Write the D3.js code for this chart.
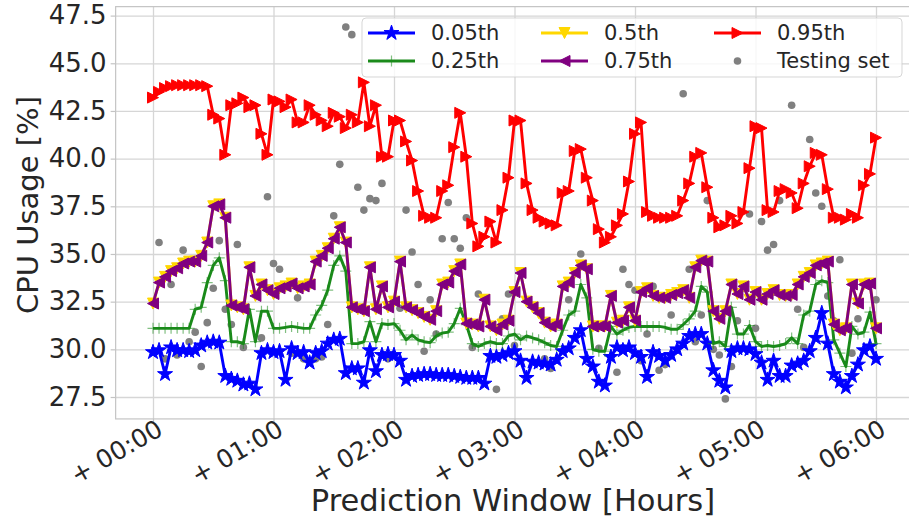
<!DOCTYPE html>
<html>
<head>
<meta charset="utf-8">
<script src="https://cdn.jsdelivr.net/npm/d3@7/dist/d3.min.js"></script>
<style>
  html, body { margin: 0; padding: 0; background: #fff; }
  svg { display: block; font-family: "DejaVu Sans", sans-serif; }
</style>
</head>
<body>
<svg id="chart" width="909" height="519"></svg>
<script>
// Forecast quantiles of CPU usage over a 6-hour window, one sample every 3 minutes.
const stepMinutes = 3;

const q05 = [
  29.85,29.95,28.7,30.1,29.95,29.95,29.9,29.95,30.2,30.35,
  30.4,30.35,28.6,28.45,28.35,28.15,28.2,27.9,29.8,29.95,
  29.85,29.9,28.4,30.05,29.8,29.85,29.3,29.8,29.9,30.3,
  30.5,30.55,28.75,29.0,29.0,28.25,29.95,28.85,29.7,29.75,
  29.7,29.4,28.4,28.6,28.65,28.7,28.7,28.65,28.65,28.65,
  28.6,28.55,28.5,28.5,28.5,28.2,29.65,29.6,29.7,29.8,
  29.9,29.4,28.5,29.35,29.3,29.25,29.2,29.45,29.9,30.05,
  30.6,31.0,29.5,29.1,28.3,28.1,29.6,30.1,29.95,30.1,
  29.8,29.6,28.55,29.85,29.65,29.4,29.7,30.0,30.3,30.7,
  30.8,30.8,30.3,28.9,28.35,28.0,29.9,30.05,30.05,30.0,
  29.75,29.3,28.4,29.4,28.6,28.6,29.15,29.25,29.4,29.9,
  30.6,31.9,30.3,28.7,28.3,28.0,28.6,29.2,29.95,30.15,
  29.5
];

const q25 = [
  31.1,31.1,31.1,31.1,31.1,31.1,31.1,32.1,32.2,33.5,
  34.4,34.8,33.6,30.4,30.4,30.3,32.1,30.4,32.0,32.0,
  31.1,31.1,31.15,31.2,31.15,31.1,31.1,31.8,32.3,33.1,
  34.4,34.9,34.1,30.3,30.3,30.4,31.45,30.4,31.35,31.3,
  31.35,31.0,30.5,30.75,30.5,30.4,30.35,30.7,30.85,30.9,
  31.35,32.15,31.3,30.3,30.15,30.3,30.4,30.3,30.3,30.7,
  30.8,30.5,30.7,30.6,30.5,30.35,30.2,30.15,31.0,31.8,
  32.0,33.4,32.7,30.0,29.9,29.9,31.2,30.8,31.0,31.15,
  31.2,31.2,31.2,31.2,31.2,31.15,31.05,31.05,31.3,31.6,
  32.0,33.3,33.0,30.3,30.4,30.15,32.2,30.8,30.8,31.25,
  30.4,30.15,30.2,30.15,30.2,30.3,30.6,30.3,31.8,32.0,
  33.4,33.6,33.5,30.5,29.8,29.1,31.2,30.8,30.9,31.95,
  30.3
];

const q50 = [
  32.4,33.5,33.8,34.1,34.25,34.5,34.6,34.6,34.9,35.6,
  37.5,37.6,36.9,32.3,32.2,32.1,34.3,32.8,33.4,33.1,
  32.9,33.2,33.3,33.45,33.2,33.3,33.4,34.6,34.9,35.3,
  35.8,36.4,35.6,32.2,32.1,32.0,34.3,32.1,33.3,32.2,
  32.5,34.6,32.2,32.05,31.9,31.7,31.55,32.0,33.4,33.5,
  34.1,34.45,31.35,31.3,31.2,32.6,31.2,31.0,31.3,31.5,
  33.0,34.0,32.5,32.2,31.9,31.4,31.2,31.3,33.3,33.5,
  34.0,34.4,34.2,31.2,31.2,31.2,32.8,31.4,31.5,32.2,
  31.5,33.0,33.2,32.8,32.7,32.7,32.85,32.95,33.1,32.7,
  34.3,34.65,34.6,32.0,31.6,32.0,33.4,32.9,33.3,32.6,
  33.0,32.6,32.9,33.1,32.85,32.8,32.85,33.4,33.8,34.0,
  34.4,34.5,34.6,31.3,31.0,31.1,33.4,32.4,33.4,33.45,
  31.1
];

const q75 = [
  32.4,33.5,33.8,34.1,34.25,34.5,34.6,34.6,34.9,35.6,
  37.5,37.6,36.9,32.3,32.2,32.1,34.3,32.8,33.4,33.1,
  32.9,33.2,33.3,33.45,33.2,33.3,33.4,34.6,34.9,35.3,
  35.8,36.4,35.6,32.2,32.1,32.0,34.3,32.1,33.3,32.2,
  32.5,34.6,32.2,32.05,31.9,31.7,31.55,32.0,33.4,33.5,
  34.1,34.45,31.35,31.3,31.2,32.6,31.2,31.0,31.3,31.5,
  33.0,34.0,32.5,32.2,31.9,31.4,31.2,31.3,33.3,33.5,
  34.0,34.4,34.2,31.2,31.2,31.2,32.8,31.4,31.5,32.2,
  31.5,33.0,33.2,32.8,32.7,32.7,32.85,32.95,33.1,32.7,
  34.3,34.65,34.6,32.0,31.6,32.0,33.4,32.9,33.3,32.6,
  33.0,32.6,32.9,33.1,32.85,32.8,32.85,33.4,33.8,34.0,
  34.4,34.5,34.6,31.3,31.0,31.1,33.4,32.4,33.4,33.45,
  31.1
];

const q95 = [
  43.2,43.5,43.7,43.8,43.85,43.85,43.85,43.85,43.85,43.8,
  42.3,42.1,40.2,42.8,42.9,43.2,42.7,42.8,41.3,40.2,
  43.1,43.0,42.7,43.1,41.9,41.9,42.8,42.3,42.0,41.7,
  42.4,42.2,41.6,42.3,41.9,44.0,41.7,42.8,40.1,40.1,
  42.0,42.0,40.9,39.9,38.3,37.0,36.9,36.9,38.3,38.6,
  40.6,42.4,40.1,36.6,35.4,35.9,36.7,35.6,37.3,39.0,
  42.0,42.0,38.7,37.3,36.9,36.7,36.6,36.5,38.2,38.3,
  40.4,40.5,39.0,37.8,36.3,35.6,35.9,36.5,37.1,38.8,
  41.3,41.9,37.2,37.0,36.9,36.9,36.9,37.0,37.8,38.7,
  40.1,40.3,38.5,36.9,36.4,36.5,37.0,36.6,37.2,39.5,
  41.7,41.6,37.3,37.2,38.3,38.4,38.2,37.4,38.7,39.6,
  40.3,40.2,38.4,36.9,36.9,36.8,37.1,36.9,38.6,39.2,
  41.1
];

// Observed values (null where no observation is plotted)
const testing = [
  null,35.6,29.5,33.4,29.7,35.2,30.4,30.9,29.1,31.4,
  33.2,35.7,32.1,31.3,35.5,30.1,null,null,30.6,38.0,
  34.5,34.2,null,29.8,32.7,29.5,null,29.5,29.6,31.3,
  37.0,39.7,46.9,46.5,38.5,37.3,37.9,37.8,38.7,29.5,
  null,32.15,37.3,35.1,33.4,29.9,32.6,30.8,35.8,37.7,
  35.8,35.3,36.9,30.1,32.9,null,null,27.9,31.6,32.9,
  30.2,null,null,null,null,29.5,29.0,null,null,32.6,
  null,35.0,null,null,30.05,null,null,28.8,34.2,33.4,
  33.1,29.4,30.8,33.3,28.9,29.2,31.8,null,43.4,34.2,
  30.4,31.8,37.8,30.0,29.7,27.4,29.1,31.5,null,37.1,
  31.1,36.7,35.2,35.5,37.8,null,42.8,32.1,30.1,41.0,
  38.2,37.5,32.8,31.5,34.7,null,29.8,31.6,null,null,
  32.6
];

const xTickHours = [0, 1, 2, 3, 4, 5, 6];
const xTickLabels = ["+ 00:00", "+ 01:00", "+ 02:00", "+ 03:00", "+ 04:00", "+ 05:00", "+ 06:00"];
const yTickValues = [27.5, 30.0, 32.5, 35.0, 37.5, 40.0, 42.5, 45.0, 47.5];

const seriesNames = ["0.05th", "0.25th", "0.5th", "0.75th", "0.95th"];
const seriesColors = ["#0000ff", "#1a8a1a", "#ffd700", "#800080", "#ff0000"];
const seriesMarkers = ["star", "plus", "down", "left", "right"];
const seriesData = [q05, q25, q50, q75, q95];

const textColor = "#262626";
const gridColor = "#d6d6d6";

// ---- scales ----
const hourOf = i => i * stepMinutes / 60;
const x = d3.scaleLinear().domain([0, 6]).range([153, 876]);
const y = d3.scaleLinear().domain([27.5, 47.5]).range([397, 15.6]);

const plot = {
  left: x(-0.31),
  right: x(6.3),
  top: y(47.97),
  bottom: y(26.35)
};

const svg = d3.select("#chart");

svg.append("defs").append("clipPath").attr("id", "plot-clip")
  .append("rect")
  .attr("x", plot.left).attr("y", plot.top)
  .attr("width", plot.right - plot.left).attr("height", plot.bottom - plot.top);

// ---- grid ----
const grid = svg.append("g");
grid.append("g")
  .attr("transform", `translate(0,${plot.bottom})`)
  .call(d3.axisBottom(x).tickValues(xTickHours).tickSize(-(plot.bottom - plot.top)).tickFormat(""))
  .call(g => g.select(".domain").remove())
  .call(g => g.selectAll("line").attr("stroke", gridColor).attr("stroke-width", 1.3));
grid.append("g")
  .attr("transform", `translate(${plot.left},0)`)
  .call(d3.axisLeft(y).tickValues(yTickValues).tickSize(-(plot.right - plot.left)).tickFormat(""))
  .call(g => g.select(".domain").remove())
  .call(g => g.selectAll("line").attr("stroke", gridColor).attr("stroke-width", 1.3));

// ---- frame ----
svg.append("rect")
  .attr("x", plot.left).attr("y", plot.top)
  .attr("width", plot.right - plot.left).attr("height", plot.bottom - plot.top)
  .attr("fill", "none").attr("stroke", "#c4c4c4").attr("stroke-width", 1.2);

// ---- axes ----
const yAxis = svg.append("g")
  .attr("transform", `translate(${plot.left},0)`)
  .call(d3.axisLeft(y).tickValues(yTickValues).tickFormat(d3.format(".1f")).tickSize(5).tickPadding(4));
yAxis.select(".domain").remove();
yAxis.selectAll("line").attr("stroke", "#c4c4c4").attr("stroke-width", 1.2);
yAxis.selectAll("text")
  .attr("font-family", "DejaVu Sans").attr("font-size", 26).attr("fill", textColor);

const xAxis = svg.append("g")
  .attr("transform", `translate(0,${plot.bottom})`)
  .call(d3.axisBottom(x).tickValues(xTickHours).tickFormat((d, i) => xTickLabels[i]).tickSize(5));
xAxis.select(".domain").remove();
xAxis.selectAll("line").attr("stroke", "#c4c4c4").attr("stroke-width", 1.2);
xAxis.selectAll("text")
  .attr("font-family", "DejaVu Sans").attr("font-size", 25).attr("fill", textColor)
  .attr("text-anchor", "end")
  .attr("dy", null)
  .attr("y", null)
  .attr("transform", "translate(11,15) rotate(-30)");

svg.append("text")
  .attr("transform", `translate(28,205) rotate(-90)`)
  .attr("text-anchor", "middle")
  .attr("dominant-baseline", "central")
  .attr("font-size", 29).attr("fill", textColor)
  .text("CPU Usage [%]");

svg.append("text")
  .attr("x", 513)
  .attr("y", 511)
  .attr("text-anchor", "middle")
  .attr("font-size", 30.5).attr("fill", textColor)
  .text("Prediction Window [Hours]");

// ---- marker shapes ----
const S = 5.5;
function markerPath(kind) {
  switch (kind) {
    case "star": return d3.symbol(d3.symbolStar, 70)();
    case "plus": return `M${-S},0H${S}M0,${-S}V${S}`;
    case "down": return `M0,${S}L${-S},${-S}L${S},${-S}Z`;
    case "left": return `M${-S},0L${S},${-S}L${S},${S}Z`;
    case "right": return `M${S},0L${-S},${-S}L${-S},${S}Z`;
  }
}
function styleMarker(sel, kind, color) {
  if (kind === "plus") {
    sel.attr("fill", "none").attr("stroke", color).attr("stroke-width", 1.2).attr("stroke-opacity", 0.55);
  } else {
    sel.attr("fill", color).attr("stroke", color).attr("stroke-width", 1);
  }
}

// ---- data layer ----
const layer = svg.append("g").attr("clip-path", "url(#plot-clip)");

// observations sit underneath the quantile lines
layer.append("g").selectAll("circle")
  .data(testing.map((v, i) => ({ h: hourOf(i), v })).filter(d => d.v !== null))
  .join("circle")
  .attr("cx", d => x(d.h))
  .attr("cy", d => y(d.v))
  .attr("r", 3.8)
  .attr("fill", "#808080");

const line = d3.line().x(d => x(d.h)).y(d => y(d.v));

seriesData.forEach((values, s) => {
  const pts = values.map((v, i) => ({ h: hourOf(i), v }));
  const g = layer.append("g");
  g.append("path")
    .datum(pts)
    .attr("d", line)
    .attr("fill", "none")
    .attr("stroke", seriesColors[s])
    .attr("stroke-width", 2.9)
    .attr("stroke-linejoin", "round");
  const m = g.selectAll("path.mk")
    .data(pts)
    .join("path")
    .attr("class", "mk")
    .attr("transform", d => `translate(${x(d.h)},${y(d.v)})`)
    .attr("d", markerPath(seriesMarkers[s]));
  styleMarker(m, seriesMarkers[s], seriesColors[s]);
});

// ---- legend ----
const legend = svg.append("g");
legend.append("rect")
  .attr("x", 362).attr("y", 18).attr("width", 540).attr("height", 59)
  .attr("rx", 4)
  .attr("fill", "#fff").attr("fill-opacity", 0.8)
  .attr("stroke", "#cccccc").attr("stroke-opacity", 0.8);

const legendItems = [
  { name: seriesNames[0], color: seriesColors[0], marker: seriesMarkers[0], col: 0, row: 0 },
  { name: seriesNames[1], color: seriesColors[1], marker: seriesMarkers[1], col: 0, row: 1 },
  { name: seriesNames[2], color: seriesColors[2], marker: seriesMarkers[2], col: 1, row: 0 },
  { name: seriesNames[3], color: seriesColors[3], marker: seriesMarkers[3], col: 1, row: 1 },
  { name: seriesNames[4], color: seriesColors[4], marker: seriesMarkers[4], col: 2, row: 0 },
  { name: "Testing set", color: "#808080", marker: "dot", col: 2, row: 1 }
];
const colX = [368, 541, 714];
const rowY = [33, 61];
const handleLen = 47;

legendItems.forEach(it => {
  const gx = colX[it.col], gy = rowY[it.row];
  const g = legend.append("g");
  if (it.marker === "dot") {
    g.append("circle").attr("cx", gx + handleLen / 2).attr("cy", gy).attr("r", 3.8).attr("fill", it.color);
  } else {
    g.append("line")
      .attr("x1", gx).attr("x2", gx + handleLen).attr("y1", gy).attr("y2", gy)
      .attr("stroke", it.color).attr("stroke-width", 2.9);
    const mk = g.append("path")
      .attr("transform", `translate(${gx + handleLen / 2},${gy})`)
      .attr("d", markerPath(it.marker));
    styleMarker(mk, it.marker, it.color);
  }
  g.append("text")
    .attr("x", gx + handleLen + 16).attr("y", gy)
    .attr("dominant-baseline", "central")
    .attr("font-size", 21).attr("fill", textColor)
    .text(it.name);
});
</script>
</body>
</html>
